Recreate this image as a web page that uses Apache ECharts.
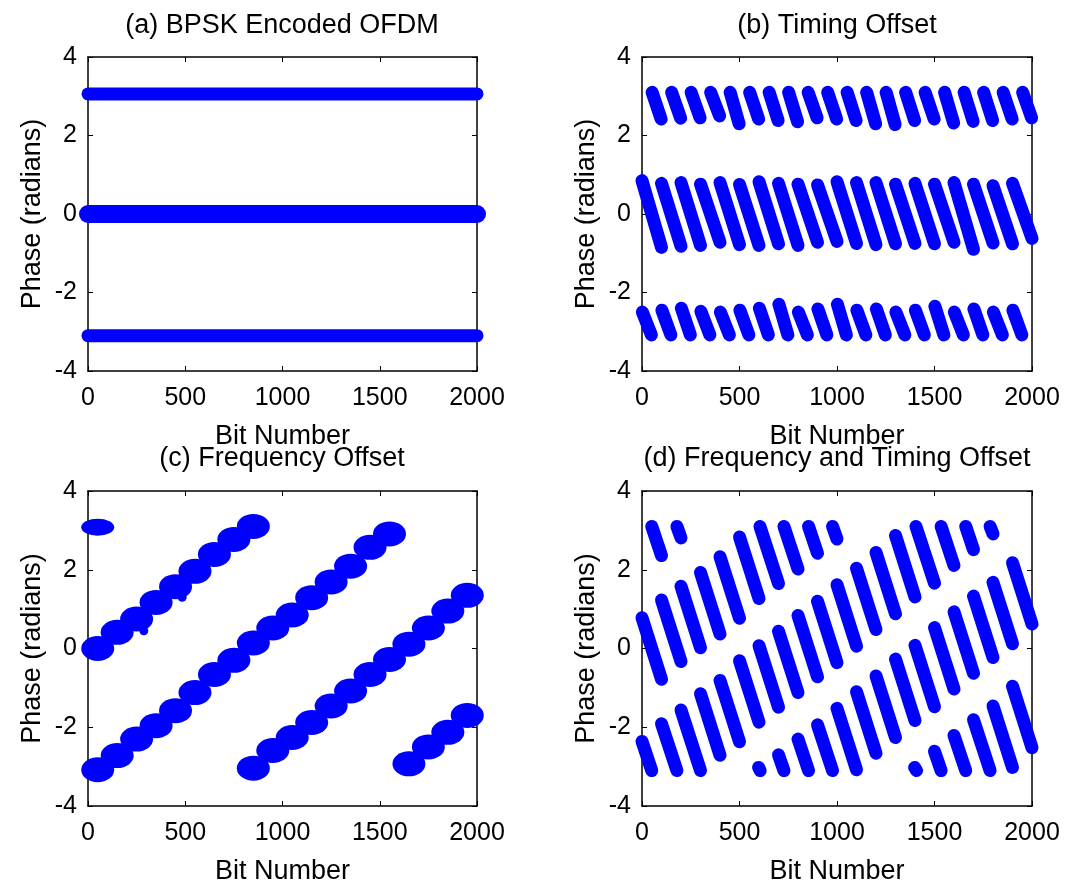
<!DOCTYPE html>
<html>
<head>
<meta charset="utf-8">
<script src="https://cdn.jsdelivr.net/npm/echarts@6/dist/echarts.min.js"></script>
<style>
html,body{margin:0;padding:0;background:#ffffff;}
#chart{width:1077px;height:886px;}
</style>
</head>
<body>
<div id="chart"></div>
<script>
// ---------------- data ----------------
const panelTitles = ['(a) BPSK Encoded OFDM', '(b) Timing Offset', '(c) Frequency Offset', '(d) Frequency and Timing Offset'];
const xAxisName = 'Bit Number';
const yAxisName = 'Phase (radians)';
const xTickValues = [0, 500, 1000, 1500, 2000];
const yTickValues = [-4, -2, 0, 2, 4];

// OFDM symbol start bits (100 bits per symbol)
const symbolStarts = [0,100,200,300,400,500,600,700,800,900,1000,1100,1200,1300,1400,1500,1600,1700,1800,1900];

// (a) three flat phase bands
const aBandLevels = [3.06, 0.0, -3.1];

// (b) timing offset: per-symbol stripe end values
const bMidTop    = [0.85,0.78,0.8,0.76,0.8,0.75,0.82,0.78,0.76,0.74,0.82,0.8,0.8,0.76,0.78,0.76,0.8,0.76,0.72,0.78];
const bMidBottom = [-0.85,-0.82,-0.8,-0.72,-0.78,-0.8,-0.76,-0.8,-0.72,-0.7,-0.75,-0.78,-0.76,-0.75,-0.76,-0.72,-0.9,-0.74,-0.76,-0.62];
const bUpperTop = 3.1;
const bUpperBottom = [2.42,2.44,2.45,2.5,2.3,2.42,2.38,2.35,2.45,2.42,2.38,2.3,2.28,2.38,2.42,2.32,2.36,2.38,2.42,2.45];
const bLowerTop = [-2.5,-2.45,-2.4,-2.48,-2.5,-2.45,-2.4,-2.3,-2.5,-2.42,-2.3,-2.45,-2.42,-2.5,-2.45,-2.35,-2.5,-2.42,-2.5,-2.45];
const bLowerBottom = -3.08;

// (c) frequency offset: per-symbol cluster centres [bit, phase]
const cBandA = [[50,0.0],[150,0.41],[250,0.75],[350,1.17],[450,1.57],[550,1.96],[650,2.39],[750,2.77],[850,3.1]];
const cBandB = [[50,-3.08],[150,-2.72],[250,-2.3],[350,-1.96],[450,-1.58],[550,-1.12],[650,-0.66],[750,-0.3],
                [850,0.14],[950,0.52],[1050,0.85],[1150,1.29],[1250,1.69],[1350,2.09],[1450,2.57],[1550,2.91]];
const cBandC = [[850,-3.04],[950,-2.59],[1050,-2.26],[1150,-1.88],[1250,-1.46],[1350,-1.08],[1450,-0.66],[1550,-0.28],
                [1650,0.11],[1750,0.52],[1850,0.95],[1950,1.35]];
const cBandD = [[1650,-2.93],[1750,-2.5],[1850,-2.13],[1950,-1.7]];
const cTopLeft = [[50,3.08]];
const cOutliers = [[287,0.45],[484,1.3]];

// (d) frequency + timing offset: stripe segments [bitStart, phaseStart, bitEnd, phaseEnd]
const dSegments = [
  [0,0.78,100,-0.78],[100,1.23,200,-0.33],[200,1.58,300,0.02],[300,1.93,400,0.37],[400,2.33,500,0.77],
  [500,2.83,600,1.27],[605,3.1,700,1.65],[598,-3.02,606,-3.1],[728,3.1,800,2.02],[700,-2.7,728,-3.1],
  [854,3.1,900,2.42],[800,-2.3,854,-3.1],[977,3.1,1000,2.78],[900,-1.94,977,-3.1],
  [1000,-1.52,1100,-3.08],[1100,-1.1,1200,-2.66],[1200,-0.7,1300,-2.26],[1300,-0.27,1400,-1.83],
  [1400,0.08,1500,-1.48],[1500,0.53,1600,-1.03],[1600,0.93,1700,-0.63],[1700,1.33,1800,-0.23],
  [1800,1.68,1900,0.12],[1900,2.18,2000,0.62],
  [0,-2.36,50,-3.1],[50,3.1,100,2.36],[100,-1.91,179,-3.1],[179,3.1,200,2.81],
  [200,-1.56,300,-3.1],[300,-1.15,400,-2.71],[400,-0.81,500,-2.37],[500,-0.31,600,-1.87],
  [600,0.07,700,-1.49],[700,0.44,800,-1.12],[800,0.84,900,-0.72],[900,1.2,1000,-0.36],
  [1000,1.62,1100,0.06],[1100,2.04,1200,0.48],[1200,2.44,1300,0.88],[1300,2.87,1400,1.31],
  [1405,3.1,1500,1.66],[1398,-3.02,1408,-3.1],[1534,3.1,1600,2.11],[1500,-2.61,1534,-3.1],
  [1660,3.1,1700,2.51],[1600,-2.21,1660,-3.1],[1785,3.1,1800,2.91],[1700,-1.81,1785,-3.1],
  [1800,-1.46,1900,-3.02],[1900,-0.96,2000,-2.52]
];

// ---------------- styles & layout ----------------
const BLUE = '#0000ff';
const TEXT = '#000000';
const FONT = 'Liberation Sans, Arial, sans-serif';
const grids = [
  {left: 88, top: 57, width: 389, height: 314},
  {left: 642, top: 57, width: 390, height: 314},
  {left: 88, top: 491, width: 389, height: 317},
  {left: 642, top: 491, width: 390, height: 317}
];
const aBandWidths = [13, 18, 13];
const stripeWidth = 13;
const blobSize = [33, 25];
const flatBlobSize = [33, 17];

// ---------------- build segments ----------------
const aSegments = aBandLevels.map(v => [xTickValues[0], v, xTickValues[xTickValues.length - 1], v]);
const bSegments = [];
symbolStarts.forEach((s, k) => {
  bSegments.push([s, bMidTop[k], s + 100, bMidBottom[k]]);
  bSegments.push([s + 52, bUpperTop, s + 98, bUpperBottom[k]]);
  bSegments.push([s + 2, bLowerTop[k], s + 48, bLowerBottom]);
});

function segRender(widthFor) {
  return function (params, api) {
    const p0 = api.coord([api.value(0), api.value(1)]);
    const p1 = api.coord([api.value(2), api.value(3)]);
    return {
      type: 'line',
      shape: {x1: p0[0], y1: p0[1], x2: p1[0], y2: p1[1]},
      style: {stroke: BLUE, lineWidth: widthFor(params.dataIndex), lineCap: 'round', fill: null}
    };
  };
}

const xMin = xTickValues[0], xMax = xTickValues[xTickValues.length - 1];
const xInt = xTickValues[1] - xTickValues[0];
const yMin = yTickValues[0], yMax = yTickValues[yTickValues.length - 1];
const yInt = yTickValues[1] - yTickValues[0];
const plain = v => String(v);

const xAxes = [], yAxes = [];
grids.forEach((g, gi) => {
  const common = {
    gridIndex: gi, type: 'value',
    splitLine: {show: false},
    axisLine: {show: true, onZero: false, lineStyle: {color: '#000', width: 1.5}},
    axisTick: {show: true, inside: true, length: 5, lineStyle: {color: '#000', width: 1}}
  };
  xAxes.push(Object.assign({}, common, {
    position: 'bottom', min: xMin, max: xMax, interval: xInt,
    axisLabel: {show: true, margin: 15, fontSize: 25, color: TEXT, fontFamily: FONT, showMinLabel: true, showMaxLabel: true, formatter: plain},
    name: xAxisName, nameLocation: 'middle', nameGap: 52,
    nameTextStyle: {fontSize: 27, color: TEXT, fontFamily: FONT}
  }));
  xAxes.push(Object.assign({}, common, {
    position: 'top', min: xMin, max: xMax, interval: xInt, axisLabel: {show: false}
  }));
  yAxes.push(Object.assign({}, common, {
    position: 'left', min: yMin, max: yMax, interval: yInt,
    axisLabel: {show: true, margin: 11, fontSize: 25, color: TEXT, fontFamily: FONT, showMinLabel: true, showMaxLabel: true, formatter: plain},
    name: yAxisName, nameLocation: 'middle', nameGap: 42,
    nameTextStyle: {fontSize: 27, color: TEXT, fontFamily: FONT}
  }));
  yAxes.push(Object.assign({}, common, {
    position: 'right', min: yMin, max: yMax, interval: yInt, axisLabel: {show: false}
  }));
});

function segSeries(gi, data, widthFor) {
  return {
    type: 'custom', xAxisIndex: gi * 2, yAxisIndex: gi * 2, coordinateSystem: 'cartesian2d',
    renderItem: segRender(widthFor), data: data, encode: {x: [0, 2], y: [1, 3]},
    clip: false, silent: true, animation: false
  };
}
function blobSeries(data, size) {
  return {
    type: 'scatter', xAxisIndex: 4, yAxisIndex: 4, data: data,
    symbol: 'circle', symbolSize: size,
    itemStyle: {color: BLUE, opacity: 1, borderWidth: 0}, silent: true, animation: false
  };
}

const series = [
  segSeries(0, aSegments, i => aBandWidths[i]),
  segSeries(1, bSegments, () => stripeWidth),
  blobSeries(cBandA, blobSize),
  blobSeries(cBandB, blobSize),
  blobSeries(cBandC, blobSize),
  blobSeries(cBandD, blobSize),
  blobSeries(cTopLeft, flatBlobSize),
  blobSeries(cOutliers, [9, 9]),
  segSeries(3, dSegments, () => stripeWidth)
];

const titleCentres = [[282, 26], [837, 26], [282, 459], [837, 459]];
const graphic = [
  {type: 'rect', shape: {x: 0, y: 446, width: 1077, height: 28}, style: {fill: '#ffffff'}, z: 50, silent: true}
];
panelTitles.forEach((t, i) => {
  graphic.push({
    type: 'text', x: titleCentres[i][0], y: titleCentres[i][1], z: 51, silent: true,
    style: {text: t, fontSize: 27, fontFamily: FONT, fill: TEXT, align: 'center', verticalAlign: 'middle'}
  });
});

const chart = echarts.init(document.getElementById('chart'), null, {renderer: 'canvas'});
chart.setOption({
  animation: false,
  backgroundColor: '#ffffff',
  grid: grids,
  xAxis: xAxes,
  yAxis: yAxes,
  series: series,
  graphic: graphic
});
</script>
</body>
</html>
